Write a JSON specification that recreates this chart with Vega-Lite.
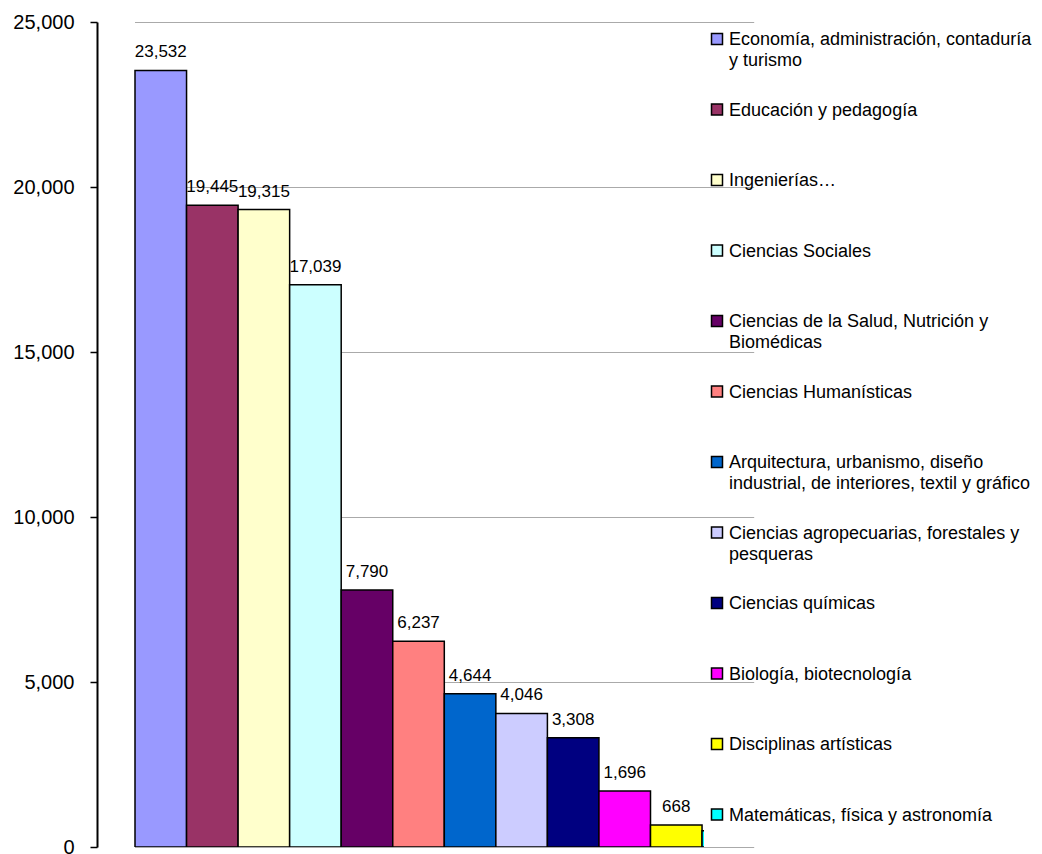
{
  "$schema": "https://vega.github.io/schema/vega-lite/v6.json",
  "width": 607,
  "height": 825,
  "autosize": {"type": "none"},
  "padding": {"left": 97, "top": 22, "right": 338, "bottom": 7},
  "background": "white",
  "config": {
    "view": {"stroke": null},
    "font": "Liberation Sans",
    "style": {"guide-label": {"lineHeight": 21, "dy": -8}}
  },
  "data": {
    "values": [
      {"area": "Economía, administración, contaduría y turismo", "alumnos": 23532},
      {"area": "Educación y pedagogía", "alumnos": 19445},
      {"area": "Ingenierías…", "alumnos": 19315},
      {"area": "Ciencias Sociales", "alumnos": 17039},
      {"area": "Ciencias de la Salud, Nutrición y Biomédicas", "alumnos": 7790},
      {"area": "Ciencias Humanísticas", "alumnos": 6237},
      {"area": "Arquitectura, urbanismo, diseño industrial, de interiores, textil y gráfico", "alumnos": 4644},
      {"area": "Ciencias agropecuarias, forestales y pesqueras", "alumnos": 4046},
      {"area": "Ciencias químicas", "alumnos": 3308},
      {"area": "Biología, biotecnología", "alumnos": 1696},
      {"area": "Disciplinas artísticas", "alumnos": 668},
      {"area": "Matemáticas, física y astronomía", "alumnos": 490}
    ]
  },
  "encoding": {
    "x": {
      "field": "area",
      "type": "nominal",
      "sort": null,
      "scale": {"range": [38, 656.6], "paddingInner": 0, "paddingOuter": 0},
      "axis": null
    },
    "y": {
      "field": "alumnos",
      "type": "quantitative",
      "scale": {"domain": [0, 25000], "nice": false},
      "axis": {
        "title": null,
        "values": [0, 5000, 10000, 15000, 20000, 25000],
        "format": ",d",
        "labelFont": "Liberation Sans",
        "labelFontSize": 20,
        "labelColor": "black",
        "labelPadding": 16,
        "labelOffset": 8,
        "tickSize": 7,
        "tickColor": "black",
        "tickWidth": 1.5,
        "domainColor": "black",
        "domainWidth": 2,
        "grid": true,
        "gridColor": "#555555",
        "gridDash": [1, 1],
        "gridWidth": 1
      }
    }
  },
  "layer": [
    {
      "mark": {"type": "bar", "stroke": "black", "strokeWidth": 1.5, "clip": true},
      "encoding": {
        "color": {
          "field": "area",
          "type": "nominal",
          "sort": null,
          "scale": {
            "domain": [
              "Economía, administración, contaduría y turismo",
              "Educación y pedagogía",
              "Ingenierías…",
              "Ciencias Sociales",
              "Ciencias de la Salud, Nutrición y Biomédicas",
              "Ciencias Humanísticas",
              "Arquitectura, urbanismo, diseño industrial, de interiores, textil y gráfico",
              "Ciencias agropecuarias, forestales y pesqueras",
              "Ciencias químicas",
              "Biología, biotecnología",
              "Disciplinas artísticas",
              "Matemáticas, física y astronomía"
            ],
            "range": ["#9999FF", "#993366", "#FFFFCC", "#CCFFFF", "#660066", "#FF8080", "#0066CC", "#CCCCFF", "#000080", "#FF00FF", "#FFFF00", "#00FFFF"]
          },
          "legend": {
            "title": null,
            "orient": "none",
            "legendX": 611,
            "legendY": 8,
            "symbolType": "square",
            "symbolSize": 121,
            "symbolStrokeColor": "black",
            "symbolStrokeWidth": 1.5,
            "symbolOpacity": 1,
            "labelFont": "Liberation Sans",
            "labelFontSize": 18,
            "labelColor": "black",
            "labelLimit": 340,
            "labelOffset": 3,
            "labelBaseline": "top",
            "gridAlign": "all",
            "rowPadding": 30.5,
            "labelExpr": "datum.label == 'Economía, administración, contaduría y turismo' ? ['Economía, administración, contaduría', 'y turismo'] : datum.label == 'Ciencias de la Salud, Nutrición y Biomédicas' ? ['Ciencias de la Salud, Nutrición y', 'Biomédicas'] : datum.label == 'Arquitectura, urbanismo, diseño industrial, de interiores, textil y gráfico' ? ['Arquitectura, urbanismo, diseño', 'industrial, de interiores, textil y gráfico'] : datum.label == 'Ciencias agropecuarias, forestales y pesqueras' ? ['Ciencias agropecuarias, forestales y', 'pesqueras'] : datum.label"
          }
        }
      }
    },
    {
      "transform": [{"filter": "datum.area != 'Matemáticas, física y astronomía'"}],
      "mark": {"type": "text", "baseline": "alphabetic", "dy": -13, "fontSize": 17, "font": "Liberation Sans", "color": "black", "clip": true},
      "encoding": {
        "text": {"field": "alumnos", "type": "quantitative", "format": ",d"}
      }
    }
  ]
}
